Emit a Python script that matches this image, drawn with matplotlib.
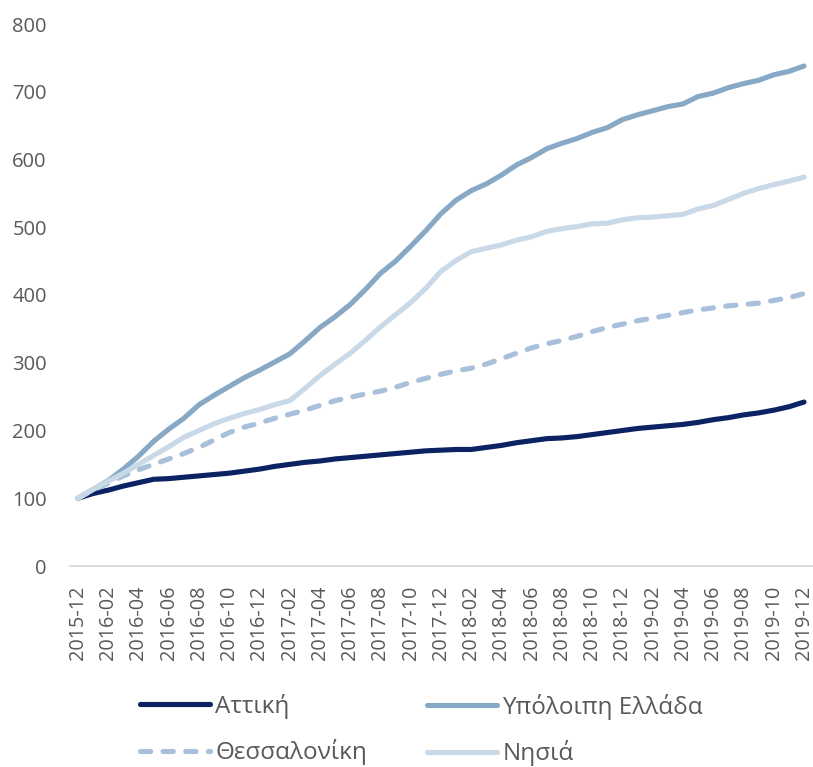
import matplotlib
matplotlib.use("Agg")
import matplotlib.pyplot as plt
import numpy as np

plt.rcParams['font.family'] = ['Open Sans', 'DejaVu Sans']

months = [f"{y}-{m:02d}" for y, m in [(2015, 12)] + [(yy, mm) for yy in range(2016, 2020) for mm in range(1, 13)]]

attiki = [100, 107, 112, 118, 123, 128, 129, 131, 133, 135, 137, 140, 143, 147, 150, 153, 155,
          158, 160, 162, 164, 166, 168, 170, 171, 172, 172, 175, 178, 182, 185, 188, 189, 191,
          194, 197, 200, 203, 205, 207, 209, 212, 216, 219, 223, 226, 230, 235, 242]
ypoloipi = [100, 113, 126, 143, 162, 184, 202, 218, 238, 252, 265, 278, 289, 301, 313, 332, 352,
            368, 386, 408, 432, 450, 472, 495, 520, 540, 554, 564, 577, 592, 603, 616, 624, 631,
            640, 647, 659, 666, 672, 678, 682, 693, 698, 706, 712, 717, 725, 730, 738]
thessaloniki = [100, 112, 122, 133, 142, 150, 158, 166, 175, 186, 197, 205, 211, 218, 224, 230,
                237, 244, 249, 254, 258, 264, 271, 277, 283, 288, 292, 298, 306, 314, 322, 328,
                333, 339, 346, 352, 357, 362, 366, 370, 374, 378, 381, 384, 386, 388, 392, 396, 402]
nisia = [100, 113, 125, 137, 150, 163, 176, 190, 200, 210, 218, 225, 231, 238, 244, 262, 281,
         298, 314, 333, 353, 371, 389, 410, 435, 451, 464, 469, 474, 481, 486, 494, 498, 501,
         505, 506, 511, 514, 515, 517, 519, 527, 532, 541, 550, 557, 563, 568, 574]

labels = ["Αττική", "Υπόλοιπη Ελλάδα", "Θεσσαλονίκη", "Νησιά"]
colors = ["#0B2362", "#88A9C5", "#A9C0DA", "#C9D9E7"]

fig = plt.figure(figsize=(8.13, 7.67), dpi=100)
ax = fig.add_axes([70.4 / 813, (767 - 566) / 767, (813 - 70.4) / 813, (566 - 24) / 767])

x = np.arange(len(months))
lw = 3.7
l1, = ax.plot(x, attiki, color=colors[0], lw=lw, solid_capstyle='round', solid_joinstyle='round')
l2, = ax.plot(x, ypoloipi, color=colors[1], lw=lw, solid_capstyle='round', solid_joinstyle='round')
l3, = ax.plot(x, thessaloniki, color=colors[2], lw=lw, dashes=(2.0, 2.4),
              dash_capstyle='round', dash_joinstyle='round')
l4, = ax.plot(x, nisia, color=colors[3], lw=lw, solid_capstyle='round', solid_joinstyle='round')

ax.set_xlim(-0.5, (813 - 78) / ((804 - 78) / 48))
ax.set_ylim(0, 800)
ax.set_yticks(range(0, 801, 100))
ax.set_xticks(x[::2])
ax.set_xticklabels(months[::2], rotation=90)

for s in ["top", "right", "left"]:
    ax.spines[s].set_visible(False)
ax.spines["bottom"].set_color("#D9D9D9")
ax.spines["bottom"].set_linewidth(1.3)

ax.tick_params(axis='y', length=0, pad=17, labelsize=14.5, labelcolor="#595959")
ax.tick_params(axis='x', length=0, pad=14, labelsize=14.3, labelcolor="#595959")

common = dict(loc="upper left", frameon=False, fontsize=17.5, handlelength=2.9,
              handletextpad=0.2, labelspacing=0.84, borderaxespad=0, borderpad=0,
              labelcolor="#595959")
leg1 = fig.legend([l1, l3], [labels[0], labels[2]],
                  bbox_to_anchor=(140 / 813, 1 - 694 / 767), **common)
leg2 = fig.legend([l2, l4], [labels[1], labels[3]],
                  bbox_to_anchor=(427 / 813, 1 - 694 / 767), **common)

fig.savefig("out.png", dpi=100)
